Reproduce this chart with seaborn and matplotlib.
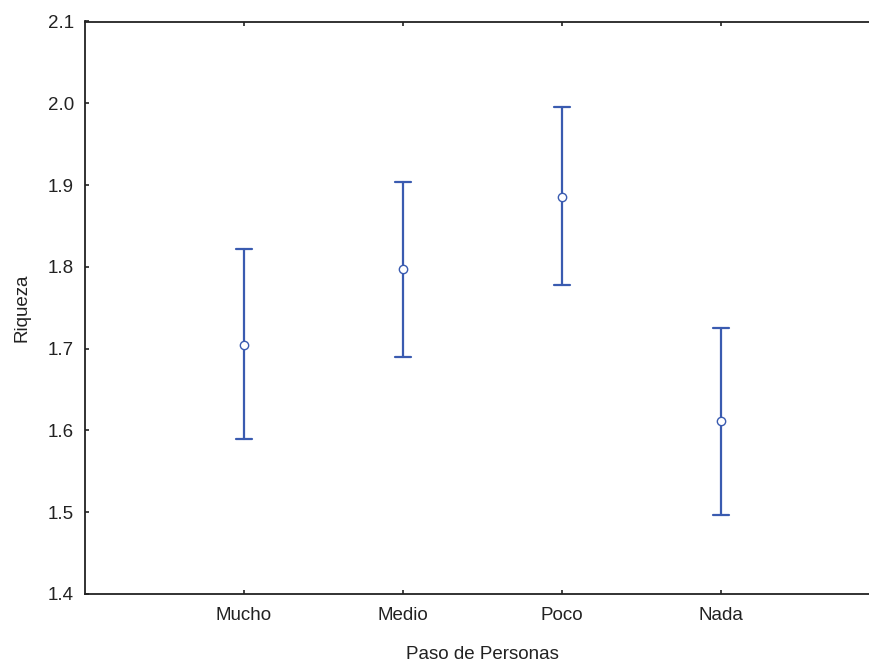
import matplotlib
matplotlib.use("Agg")
import matplotlib.pyplot as plt
import seaborn as sns
import pandas as pd

categories = ["Mucho", "Medio", "Poco", "Nada"]
means = [1.705, 1.797, 1.885, 1.612]
lower = [1.589, 1.690, 1.778, 1.497]
upper = [1.822, 1.904, 1.995, 1.725]

rows = []
for c, lo, m, hi in zip(categories, lower, means, upper):
    for v in (lo, m, hi):
        rows.append({"Paso de Personas": c, "Riqueza": v})
df = pd.DataFrame(rows)

sns.set_theme(style="white")
plt.rcParams["font.family"] = ["Liberation Sans", "DejaVu Sans"]

blue = "#3a5bb0"
fs = 13.5
fig = plt.figure(figsize=(8.7, 6.62), dpi=100)
ax = fig.add_axes([85 / 870, 1 - 594 / 662, 795 / 870, (594 - 21.5) / 662])

sns.pointplot(data=df, x="Paso de Personas", y="Riqueza", order=categories,
              estimator="median", errorbar=("pi", 100), linestyle="none",
              marker="o", color=blue, markersize=6, markeredgewidth=1.0,
              capsize=0.1, err_kws={"linewidth": 1.6}, ax=ax)

for ln in ax.lines:
    if ln.get_marker() == "o":
        ln.set_markerfacecolor("white")
        ln.set_markeredgecolor(blue)
        ln.set_zorder(10)

ax.set_xlim(-1, 4)
ax.set_ylim(1.4, 2.1)
ax.set_yticks([1.4, 1.5, 1.6, 1.7, 1.8, 1.9, 2.0, 2.1])
ax.set_yticklabels(["1.4", "1.5", "1.6", "1.7", "1.8", "1.9", "2.0", "2.1"])
for s in ax.spines.values():
    s.set_color("#222222")
    s.set_linewidth(1.3)
ax.spines["right"].set_visible(False)
ax.tick_params(axis="both", direction="in", length=3, width=1.2, color="#222222",
               labelsize=fs, labelcolor="#222222")
ax.tick_params(axis="x", top=True, bottom=True, pad=9)
ax.tick_params(axis="y", left=True, pad=8)
ax.set_xlabel("Paso de Personas", fontsize=fs, color="#222222", labelpad=16)
ax.set_ylabel("Riqueza", fontsize=fs, color="#222222", labelpad=12)

fig.savefig("out.png", dpi=100)
